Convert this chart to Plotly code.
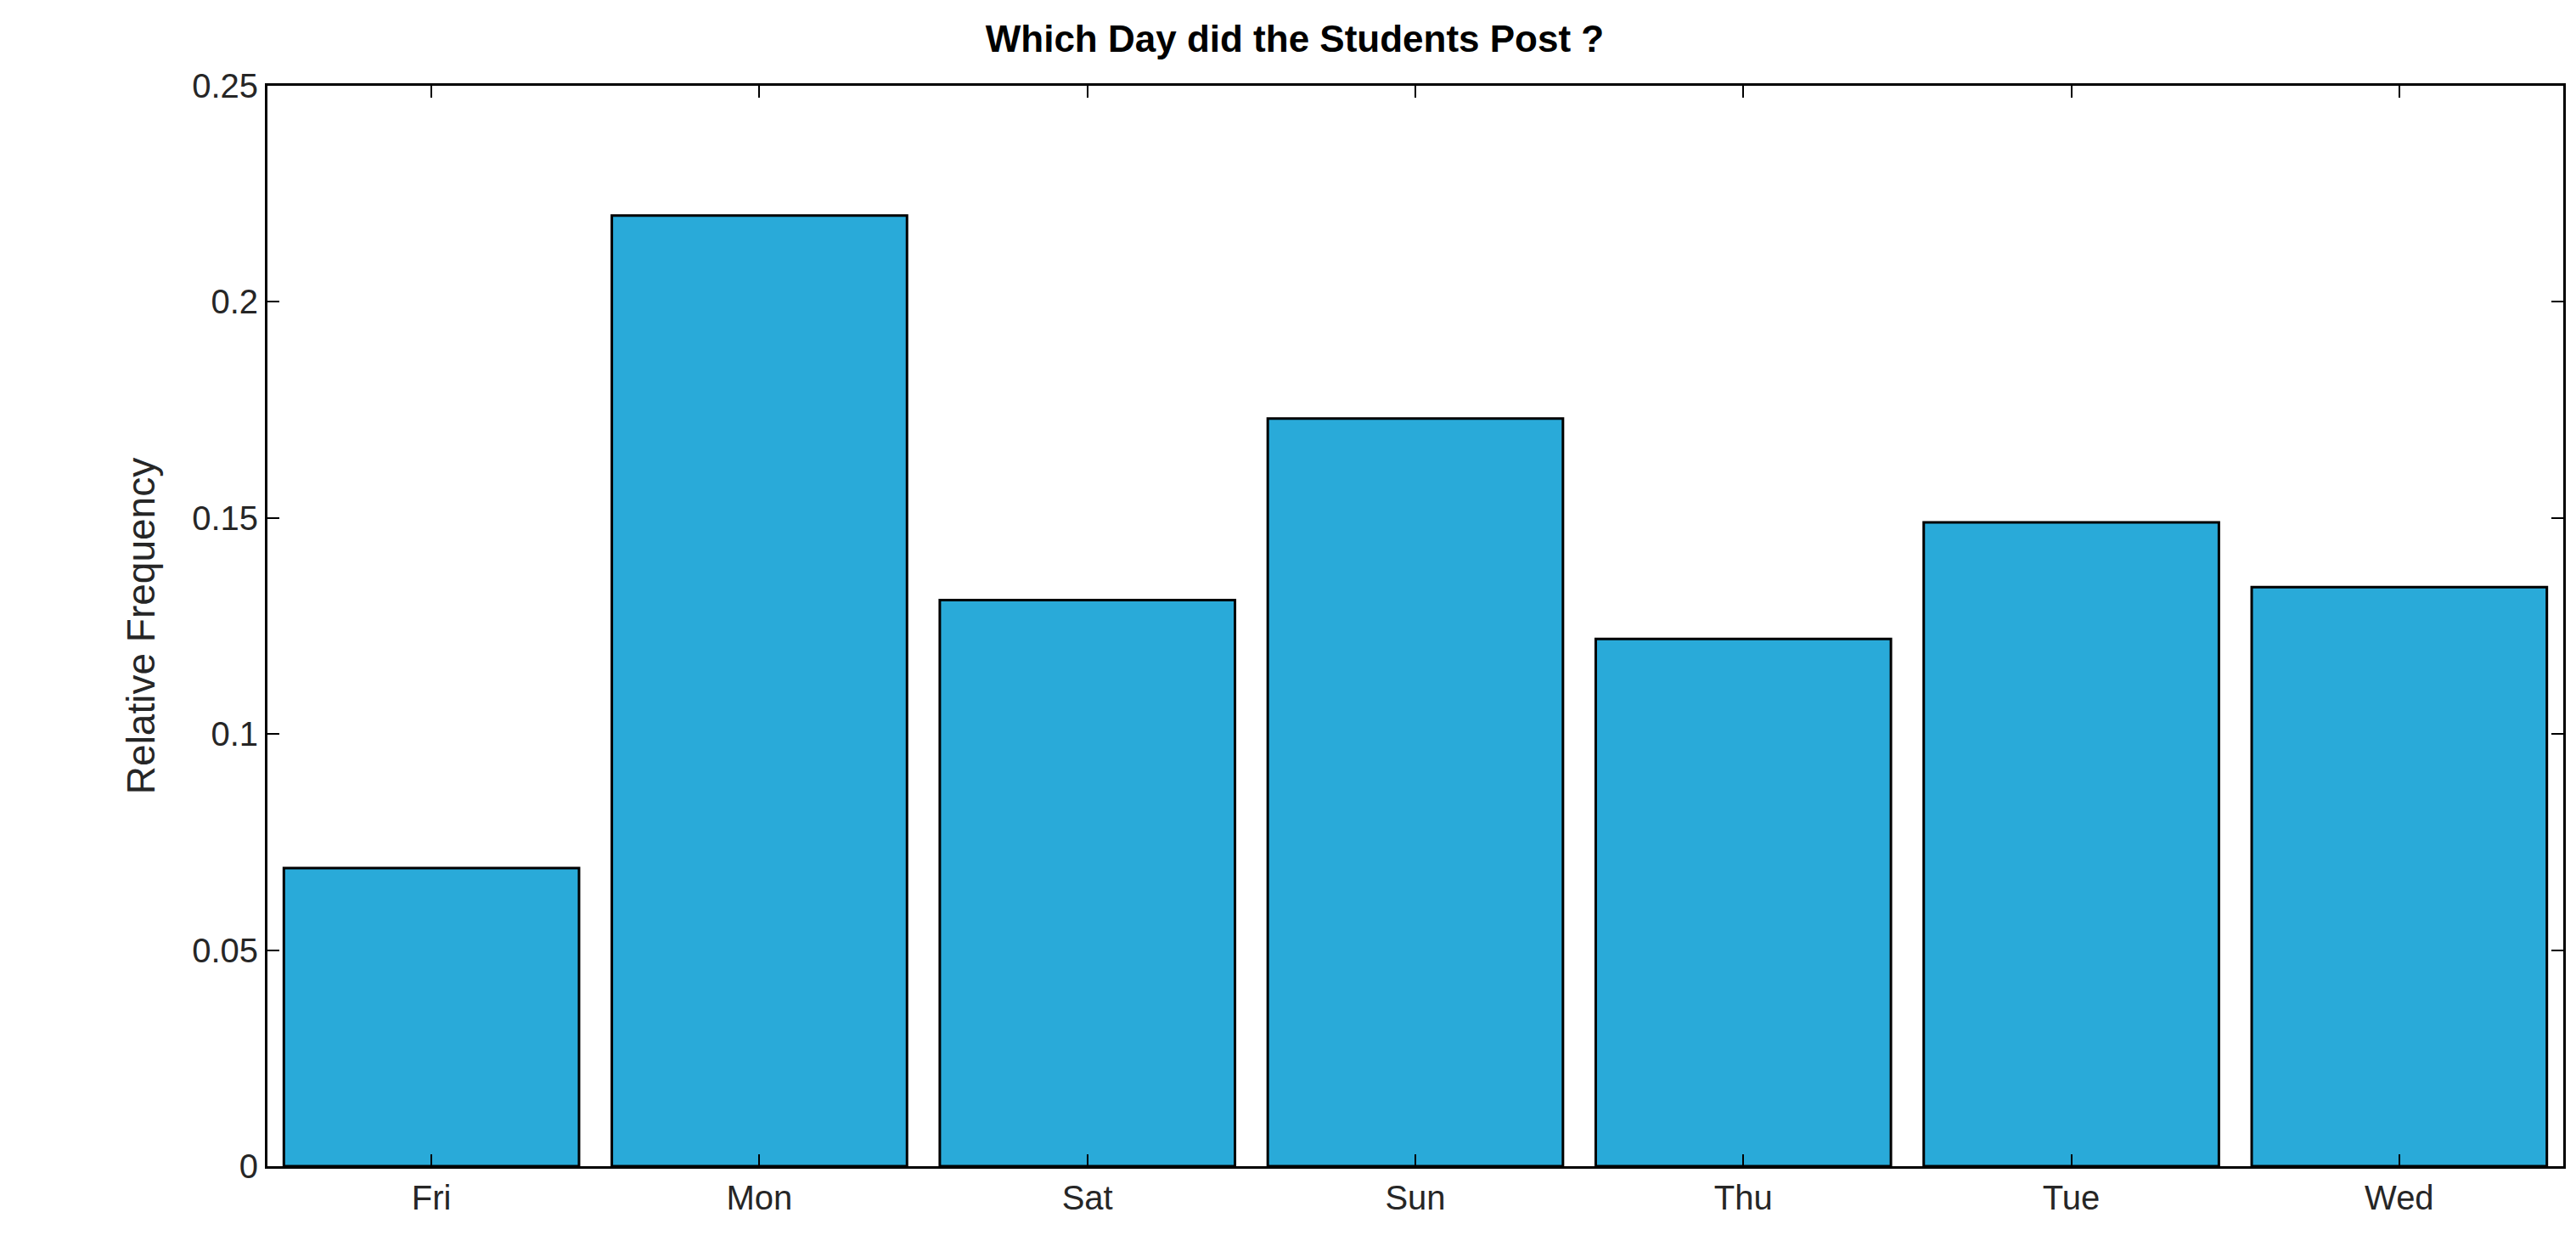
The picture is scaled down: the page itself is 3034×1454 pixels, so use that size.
import plotly.graph_objects as go

days = ["Fri", "Mon", "Sat", "Sun", "Thu", "Tue", "Wed"]
freq = [0.069, 0.220, 0.131, 0.173, 0.122, 0.149, 0.134]
yticks = [0, 0.05, 0.1, 0.15, 0.2, 0.25]
ylabels = ["0", "0.05", "0.1", "0.15", "0.2", "0.25"]

fig = go.Figure(go.Bar(x=days, y=freq, width=0.9,
                       marker=dict(color="#29aad9", line=dict(color="black", width=3))))
fig.update_layout(
    width=3034, height=1454, plot_bgcolor="white", paper_bgcolor="white",
    margin=dict(l=307, r=23, t=93, b=89),
    font=dict(family="Liberation Sans, Arial", color="#262626"),
    title=dict(text="<b>Which Day did the Students Post ?</b>", x=0.5, xanchor="center",
               y=0.985, yanchor="top", font=dict(size=44, color="black")),
    showlegend=False, bargap=0.1,
)
fig.update_xaxes(range=[-0.5, 6.5], showline=True, linecolor="black", linewidth=3, mirror="ticks",
                 ticks="inside", ticklen=14, tickwidth=2, tickcolor="black",
                 tickfont=dict(size=40), showgrid=False)
fig.update_yaxes(range=[0, 0.25], tickvals=yticks, ticktext=ylabels, showline=True,
                 linecolor="black", linewidth=3, mirror="ticks", ticks="inside", ticklen=14,
                 tickwidth=2, tickcolor="black", tickfont=dict(size=40), showgrid=False,
                 zeroline=False,
                 title=dict(text="Relative Frequency", font=dict(size=46, family="Liberation Sans Narrow, Liberation Sans"), standoff=30))
fig.write_html("out.html")
